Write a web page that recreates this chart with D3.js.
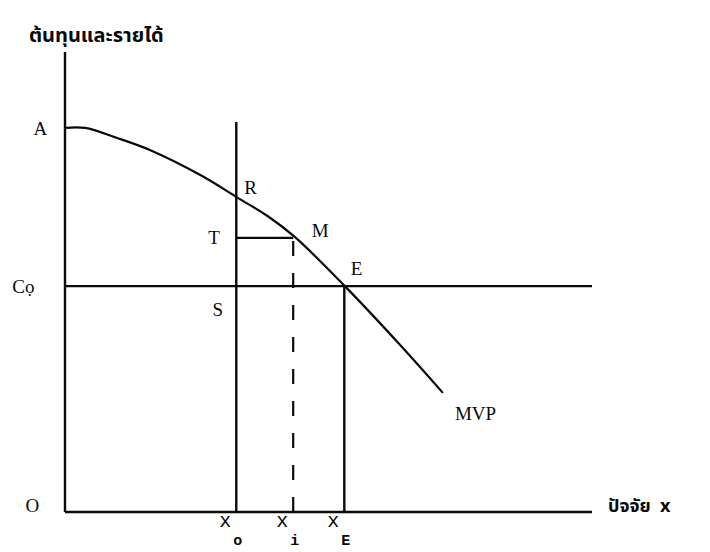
<!DOCTYPE html>
<html><head><meta charset="utf-8">
<script src="https://cdn.jsdelivr.net/npm/d3@7"></script>
<style>body{margin:0;background:#fff}</style>
</head><body>
<script>
// Abstract economic units (0..10 on both axes)
const curveX = [0, 0.38, 0.99, 1.61, 2.56, 3.28, 3.85, 4.36, 5.31, 6.36, 7.17];
const curveY = [8.35, 8.35, 8.13, 7.87, 7.33, 6.83, 6.43, 5.98, 4.91, 3.63, 2.59];
const costCo = 4.91;
const levelT = 5.96;
const xO = 3.25, xI = 4.33, xE = 5.30;
const x0Top = 8.48;
const yAxisTop = 10;
const axisTitles = ["ต้นทุนและรายได้", "ปัจจัย  x"];
const pointLabels = [
  {t:"A", x:-0.6, y:8.35},
  {t:"R", x:3.4, y:7.05},
  {t:"T", x:2.72, y:5.96},
  {t:"M", x:4.68, y:6.12},
  {t:"E", x:5.42, y:5.3},
  {t:"S", x:2.8, y:4.4},
  {t:"Cọ", x:-1.0, y:4.91},
  {t:"O", x:-0.75, y:0.15},
  {t:"MVP", x:7.4, y:2.15}
];
const xLabels = [{m:"x", s:"o", v:xO},{m:"x", s:"i", v:xI},{m:"x", s:"E", v:xE}];

const W=710,H=552;
const svg=d3.select("body").append("svg").attr("width",W).attr("height",H);
const x=d3.scaleLinear().domain([0,10]).range([65,592]);
const y=d3.scaleLinear().domain([0,10]).range([512,52]);
const ink="#0a0a0a";
const line=(x1,y1,x2,y2,w=2,dash=null)=>{
  const l=svg.append("line").attr("x1",x(x1)).attr("y1",y(y1)).attr("x2",x(x2)).attr("y2",y(y2))
    .attr("stroke",ink).attr("stroke-width",w);
  if(dash) l.attr("stroke-dasharray",dash);
  return l;
};
// axes
line(0,0,0,yAxisTop,2.4);
line(0,0,10,0,2.4);
// Co horizontal
line(0,costCo,10,costCo,2.2);
// x0 vertical
line(xO,0,xO,x0Top,2.4);
// T horizontal
line(xO,levelT,xI,levelT,2.2);
// dashed xi
line(xI,0,xI,levelT,2.2,"15,17");
// xE vertical
line(xE,0,xE,costCo,2.4);
// MVP curve
const pts=curveX.map((v,i)=>[v,curveY[i]]);
svg.append("path").datum(pts)
  .attr("d",d3.line().x(d=>x(d[0])).y(d=>y(d[1])).curve(d3.curveCatmullRom.alpha(0.5)))
  .attr("fill","none").attr("stroke",ink).attr("stroke-width",2.2);

// titles
svg.append("text").attr("x",29).attr("y",42).text(axisTitles[0])
  .attr("font-family","'Noto Sans Thai','Noto Sans','DejaVu Sans',sans-serif").attr("font-weight","bold")
  .attr("font-size",20).attr("fill",ink);
svg.append("text").attr("x",608).attr("y",512).text(axisTitles[1])
  .style("white-space","pre")
  .attr("font-family","'Noto Sans Thai','Noto Sans','DejaVu Sans',sans-serif").attr("font-weight","bold")
  .attr("font-size",18).attr("fill",ink);

// point labels
svg.selectAll("text.pl").data(pointLabels).enter().append("text").attr("class","pl")
  .attr("x",d=>x(d.x)).attr("y",d=>y(d.y)).attr("dy","0.35em")
  .attr("font-family","'Liberation Serif','Times New Roman',serif").attr("font-size",19)
  .attr("fill",ink).text(d=>d.t);

// x labels
const g=svg.selectAll("g.xl").data(xLabels).enter().append("g").attr("class","xl");
g.append("text").attr("x",d=>x(d.v)-17).attr("y",527)
  .attr("font-family","'Liberation Mono','Courier New',monospace").attr("font-size",20).attr("fill",ink).text(d=>d.m);
g.append("text").attr("x",d=>x(d.v)-3).attr("y",545)
  .attr("font-family","'Liberation Mono','Courier New',monospace").attr("font-weight","bold").attr("font-size",15).attr("fill",ink).text(d=>d.s);
</script>
</body></html>
